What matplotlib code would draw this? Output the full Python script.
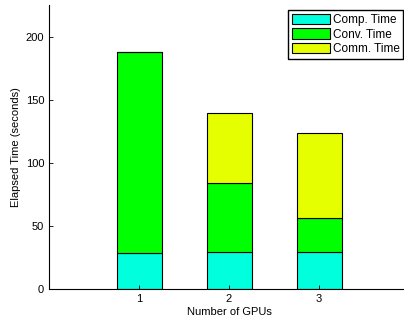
import matplotlib.pyplot as plt
import numpy as np

gpus = [1, 2, 3]
comp_time = [28.5, 29.2, 29.2]
conv_time = [159.3, 55.0, 27.1]
comm_time = [0.0, 55.3, 67.2]

plt.rcParams['font.family'] = ['Liberation Sans', 'DejaVu Sans']
plt.rcParams['font.size'] = 8

fig = plt.figure(figsize=(4.04, 3.27), dpi=100)
ax = fig.add_axes([49/404, 38/327, 360/404, 284/327])

x = np.array(gpus)
w = 0.5
bottom2 = np.array(comp_time)
bottom3 = bottom2 + np.array(conv_time)
ax.bar(x, comp_time, w, color='#00FFDD', edgecolor='black', linewidth=0.8, label='Comp. Time')
ax.bar(x, conv_time, w, bottom=bottom2, color='#00FF00', edgecolor='black', linewidth=0.8, label='Conv. Time')
ax.bar(x, comm_time, w, bottom=bottom3, color='#E5FF00', edgecolor='black', linewidth=0.8, label='Comm. Time')

ax.set_xlim(0, 4)
ax.set_ylim(0, 225)
ax.set_xticks(gpus)
ax.set_yticks([0, 50, 100, 150, 200])
ax.tick_params(direction='in', length=3, width=0.6)
ax.spines['top'].set_visible(False)
ax.spines['right'].set_visible(False)
ax.set_xlabel('Number of GPUs', labelpad=2)
ax.set_ylabel('Elapsed Time (seconds)', labelpad=3)

leg = ax.legend(loc='upper right', bbox_to_anchor=(403/404, 1 - 10/327), bbox_transform=fig.transFigure,
                fancybox=False, framealpha=1, edgecolor='black', borderpad=0.3,
                handlelength=3.2, handleheight=1.0, handletextpad=0.25, labelspacing=0.2,
                borderaxespad=0, prop={'size': 8.5})
leg.get_frame().set_linewidth(1.0)

fig.savefig('out.png', dpi=100)
